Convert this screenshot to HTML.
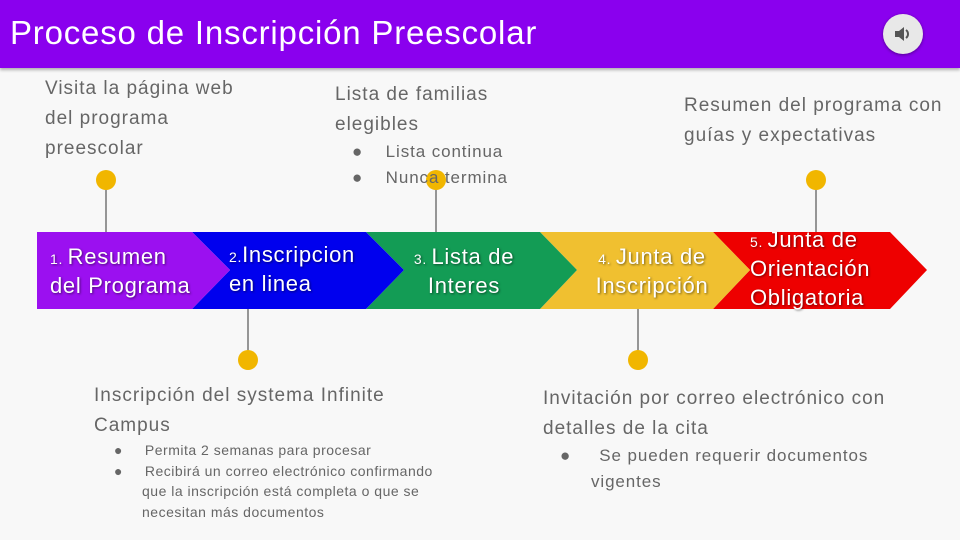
<!DOCTYPE html>
<html><head><meta charset="utf-8"><style>
body{margin:0;width:960px;height:540px;background:#f8f8f8;font-family:"Liberation Sans",sans-serif;position:relative;overflow:hidden}
.hdr{position:absolute;left:0;top:0;width:960px;height:68px;background:#8a00ee;box-shadow:0 2px 3px rgba(0,0,0,.3)}
.hdr h1{margin:0;position:absolute;left:10px;top:14px;font-weight:normal;color:#fff;font-size:33px;letter-spacing:0.8px}
.spk{position:absolute;left:883px;top:14px;width:40px;height:40px;border-radius:50%;background:#e8e8e8;box-shadow:0 1px 3px rgba(0,0,0,.4)}
.t{position:absolute;color:#666;font-size:19px;line-height:30px;letter-spacing:1px}
.s{position:absolute;color:#666;font-size:17px;line-height:26px;letter-spacing:0.9px}
.xs{position:absolute;color:#666;font-size:14px;line-height:20.5px;letter-spacing:0.5px}
</style></head><body>
<div class="hdr"><h1>Proceso de Inscripción Preescolar</h1>
<div class="spk"><svg width="40" height="40"><path d="M12 17h4l5-4v14l-5-4h-4z" fill="#555"/><path d="M23 16a5 5 0 0 1 0 8" stroke="#555" stroke-width="2" fill="none"/></svg></div></div>
<svg width="960" height="540" style="position:absolute;left:0;top:0">
<g stroke="#333" stroke-width="1">
<line x1="106" y1="180" x2="106" y2="232"/><line x1="436" y1="180" x2="436" y2="232"/><line x1="816" y1="180" x2="816" y2="232"/>
<line x1="248" y1="309" x2="248" y2="360"/><line x1="638" y1="309" x2="638" y2="360"/></g>
<g fill="#f1b600"><circle cx="106" cy="180" r="10"/><circle cx="436" cy="180" r="10"/><circle cx="816" cy="180" r="10"/><circle cx="248" cy="360" r="10"/><circle cx="638" cy="360" r="10"/></g>
<polygon points="713,232 890,232 927,270 890,309 713,309 750,270" fill="#ee0000"/>
<polygon points="540,232 713,232 750,270 713,309 540,309 577,270" fill="#f0c030"/>
<polygon points="366,232 540,232 577,270 540,309 366,309 404,270" fill="#139c55"/>
<polygon points="192,232 366,232 404,270 366,309 192,309 230,270" fill="#0000ee"/>
<polygon points="37,232 192,232 230,270 192,309 37,309" fill="#9b10f0"/>
<g fill="#fff" font-size="22" letter-spacing="0.7" style="text-shadow:1px 1px 2px rgba(0,0,0,.5)" font-family="Liberation Sans">
<text x="50" y="264"><tspan font-size="14">1. </tspan>Resumen</text><text x="50" y="293">del Programa</text>
<text x="229" y="262"><tspan font-size="14">2.</tspan>Inscripcion</text><text x="229" y="291">en linea</text>
<text x="464" y="264" text-anchor="middle"><tspan font-size="14">3. </tspan>Lista de</text><text x="464" y="293" text-anchor="middle">Interes</text>
<text x="652" y="264" text-anchor="middle"><tspan font-size="14">4. </tspan>Junta de</text><text x="652" y="293" text-anchor="middle">Inscripción</text>
<text x="750" y="247"><tspan font-size="14">5. </tspan>Junta de</text><text x="750" y="276">Orientación</text><text x="750" y="305">Obligatoria</text>
</g></svg>
<div class="t" style="left:45px;top:74px">Visita la página web<br>del programa<br>preescolar</div>
<div class="t" style="left:335px;top:80px">Lista de familias<br>elegibles</div>
<div class="s" style="left:352px;top:139px">●&nbsp;&nbsp;&nbsp;&nbsp;Lista continua<br>●&nbsp;&nbsp;&nbsp;&nbsp;Nunca termina</div>
<div class="t" style="left:684px;top:91px">Resumen del programa con<br>guías y expectativas</div>
<div class="t" style="left:94px;top:381px">Inscripción del systema Infinite<br>Campus</div>
<div class="xs" style="left:114px;top:440px">●&nbsp;&nbsp;&nbsp;&nbsp;&nbsp;Permita 2 semanas para procesar<br>●&nbsp;&nbsp;&nbsp;&nbsp;&nbsp;Recibirá un correo electrónico confirmando<br><span style="padding-left:28px">que la inscripción está completa o que se</span><br><span style="padding-left:28px">necesitan más documentos</span></div>
<div class="t" style="left:543px;top:384px">Invitación por correo electrónico con<br>detalles de la cita</div>
<div class="s" style="left:560px;top:443px">●&nbsp;&nbsp;&nbsp;&nbsp;&nbsp;Se pueden requerir documentos<br><span style="padding-left:31px">vigentes</span></div>
</body></html>
